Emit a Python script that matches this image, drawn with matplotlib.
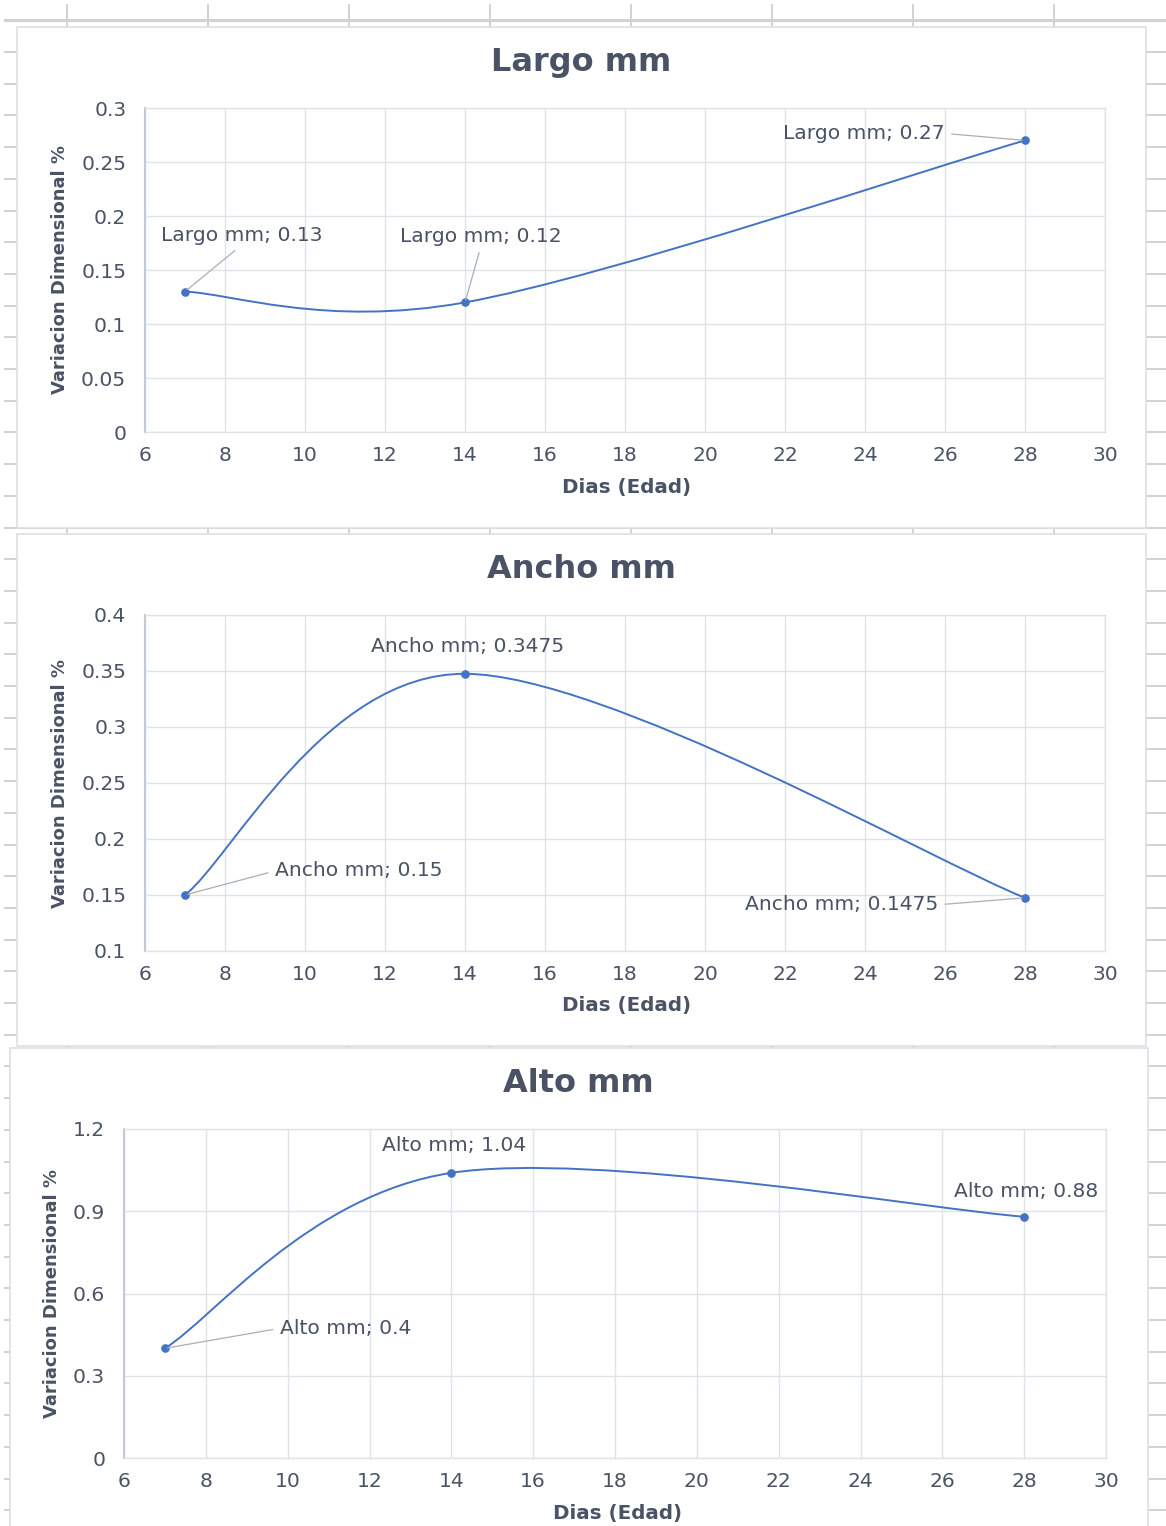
import matplotlib
matplotlib.use("Agg")
import matplotlib.pyplot as plt
from matplotlib.path import Path
from matplotlib.patches import PathPatch, Rectangle
from matplotlib.lines import Line2D

# ---------------- data ----------------
days = [7, 14, 28]
largo = [0.13, 0.12, 0.27]
ancho = [0.15, 0.3475, 0.1475]
alto = [0.4, 1.04, 0.88]
series_names = ["Largo mm", "Ancho mm", "Alto mm"]

x_ticks = [6, 8, 10, 12, 14, 16, 18, 20, 22, 24, 26, 28, 30]
y_ticks_largo = [0, 0.05, 0.1, 0.15, 0.2, 0.25, 0.3]
y_ticks_ancho = [0.1, 0.15, 0.2, 0.25, 0.3, 0.35, 0.4]
y_ticks_alto = [0, 0.3, 0.6, 0.9, 1.2]
x_label = "Dias (Edad)"
y_label = "Variacion Dimensional %"

# ---------------- style / layout ----------------
W, H = 1166, 1526
TEXT = "#4a5365"
LINE = "#4472C4"
GRID = "#dfe3ea"
SHEET = "#d2d2d2"
BOX = "#dcdfe4"

fig = plt.figure(figsize=(W / 100, H / 100), dpi=100)
fig.patch.set_facecolor("white")


def fx(px):
    return px / W


def fy(py):
    return 1 - py / H


# spreadsheet grid behind the charts
row_y = [20.3 + 31.7 * k for k in range(48)]
col_x = [67 + 141 * k for k in range(8)]
for k, yy in enumerate(row_y):
    fig.add_artist(Line2D([fx(5), 1], [fy(yy), fy(yy)], color=SHEET,
                          lw=2.2 if k == 0 else 1.4, zorder=0))
for xx in col_x:
    fig.add_artist(Line2D([fx(xx), fx(xx)], [fy(5), 0], color=SHEET, lw=1.4, zorder=0))

# chart boxes (x0, y0, x1, y1) in pixels
boxes = [(17, 27, 1146, 528), (17, 534, 1146, 1046), (10, 1048, 1148, 1535)]
for (x0, y0, x1, y1) in boxes:
    fig.add_artist(Rectangle((fx(x0), fy(y1)), (x1 - x0) / W, (y1 - y0) / H,
                             facecolor="white", edgecolor=BOX, lw=1.2, zorder=1))

# plot areas (left, top, right, bottom) in pixels
areas = [(145, 108, 1105, 432), (145, 615, 1105, 951), (124, 1129, 1106, 1458)]
titles_pos = [(581, 62), (581, 569), (578, 1084)]
ylabel_pos = [(60, 270), (60, 783), (52, 1294)]
xlabel_pos = [(627, 488), (627, 1006), (618, 1514)]

series = [largo, ancho, alto]
yticks = [y_ticks_largo, y_ticks_ancho, y_ticks_alto]

# data-label offsets in pixels (dx, dy, relpos for leader or None)
label_layout = [
    [(56.5, 56, (0.5, 0.0)), (16, 66, (0.5, 0.0)), (-161, 7, (1.0, 0.5))],
    [(173.5, 24, (0.0, 0.5)), (3, 27, None), (-183.5, -7, (1.0, 0.5))],
    [(180.5, 20, (0.0, 0.5)), (2.5, 27, None), (2, 25, None)],
]


def excel_smooth_path(xs, ys):
    pts = list(zip(xs, ys))
    n = len(pts)
    verts = [pts[0]]
    codes = [Path.MOVETO]
    for i in range(n - 1):
        p0 = pts[i - 1] if i > 0 else pts[i]
        p1 = pts[i]
        p2 = pts[i + 1]
        p3 = pts[i + 2] if i + 2 < n else pts[i + 1]
        c1 = (p1[0] + (p2[0] - p0[0]) / 6, p1[1] + (p2[1] - p0[1]) / 6)
        c2 = (p2[0] - (p3[0] - p1[0]) / 6, p2[1] - (p3[1] - p1[1]) / 6)
        verts += [c1, c2, p2]
        codes += [Path.CURVE4] * 3
    return Path(verts, codes)


for i in range(3):
    L, T, R, B = areas[i]
    ax = fig.add_axes([fx(L), fy(B), (R - L) / W, (B - T) / H])
    ax.set_zorder(2)
    ax.set_facecolor("white")
    vals = series[i]
    yt = yticks[i]

    ax.set_xlim(x_ticks[0], x_ticks[-1])
    ax.set_ylim(yt[0], yt[-1])
    ax.set_xticks(x_ticks)
    ax.set_xticklabels([f"{v:g}" for v in x_ticks])
    ax.set_yticks(yt)
    ax.set_yticklabels([f"{v:g}" for v in yt])
    ax.grid(True, color=GRID, lw=1.0)
    ax.set_axisbelow(True)
    for s in ["top", "right", "bottom"]:
        ax.spines[s].set_color(GRID)
        ax.spines[s].set_linewidth(1.0)
    ax.spines["left"].set_color("#c3cad6")
    ax.spines["left"].set_linewidth(1.5)
    ax.tick_params(length=0, labelsize=14.6, labelcolor=TEXT)
    ax.tick_params(axis="y", pad=13.5)
    ax.tick_params(axis="x", pad=10.4)

    # smoothed line + markers
    ax.add_patch(PathPatch(excel_smooth_path(days, vals), facecolor="none",
                           edgecolor=LINE, lw=1.4, zorder=3))
    ax.plot(days, vals, linestyle="none", marker="o", markersize=5.2,
            color=LINE, zorder=4, clip_on=False)

    # data labels
    for j, (d, v) in enumerate(zip(days, vals)):
        dx, dy, rel = label_layout[i][j]
        kw = {}
        if rel is not None:
            kw["arrowprops"] = dict(arrowstyle="-", color="#a9aeb8", lw=0.9,
                                    relpos=rel, shrinkA=3, shrinkB=2)
        ax.annotate(f"{series_names[i]}; {v:g}", xy=(d, v), xytext=(dx, dy),
                    textcoords="offset pixels", ha="center", va="center",
                    fontsize=14.6, color=TEXT, zorder=5, **kw)

    # axis labels
    ax.set_xlabel(x_label, fontsize=14.3, fontweight="bold", color=TEXT, va="center")
    ax.set_ylabel(y_label, fontsize=13, fontweight="bold", color=TEXT, va="center")
    ax.xaxis.set_label_coords((xlabel_pos[i][0] - L) / (R - L), (B - xlabel_pos[i][1]) / (B - T))
    ax.yaxis.set_label_coords((ylabel_pos[i][0] - L) / (R - L), (B - ylabel_pos[i][1]) / (B - T))

    # chart title
    fig.text(fx(titles_pos[i][0]), fy(titles_pos[i][1]), series_names[i],
             ha="center", va="center", fontsize=23, fontweight="bold",
             color=TEXT, zorder=6)

fig.savefig("out.png", dpi=100, facecolor="white")
